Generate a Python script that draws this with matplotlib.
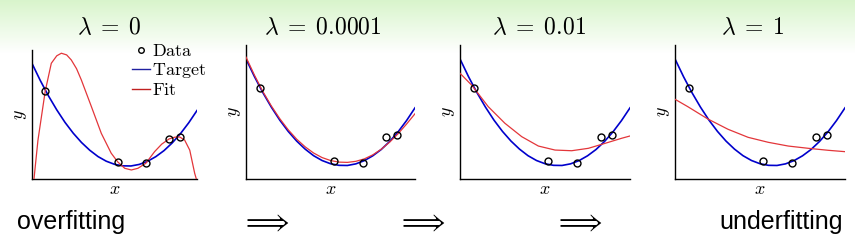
import numpy as np
import matplotlib
matplotlib.use("Agg")
import matplotlib.pyplot as plt
from matplotlib.lines import Line2D

plt.rcParams['mathtext.fontset'] = 'cm'

# noisy samples of the target
data_x = [0.08, 0.52, 0.69, 0.83, 0.895]
data_y = [0.68, 0.132, 0.122, 0.31, 0.326]

# target curve (same in every panel)
target_x = [0.0, 0.05, 0.1, 0.15, 0.2, 0.25, 0.3, 0.35, 0.4, 0.45, 0.5,
            0.55, 0.6, 0.65, 0.7, 0.75, 0.8, 0.85, 0.9, 0.95, 1.0]
target_y = [0.896, 0.764, 0.644, 0.536, 0.439, 0.355, 0.283, 0.223, 0.174, 0.138, 0.114,
            0.102, 0.101, 0.113, 0.137, 0.173, 0.220, 0.280, 0.352, 0.436, 0.531]

# fits for each lambda
fit0_x = [0.012, 0.036, 0.08, 0.117, 0.15, 0.178, 0.21, 0.238, 0.27, 0.299, 0.36,
          0.42, 0.48, 0.52, 0.562, 0.602, 0.642, 0.69, 0.743, 0.786, 0.83,
          0.865, 0.895, 0.925, 0.956, 0.986, 0.996]
fit0_y = [0.0, 0.30, 0.68, 0.897, 0.955, 0.975, 0.962, 0.923, 0.855, 0.768, 0.561,
          0.354, 0.2, 0.132, 0.083, 0.07, 0.083, 0.122, 0.212, 0.27, 0.31,
          0.324, 0.326, 0.302, 0.224, 0.044, 0.0]

fit1_x = target_x
fit1_y = [0.91, 0.775, 0.652, 0.545, 0.45, 0.367, 0.297, 0.24, 0.194, 0.16, 0.138,
          0.126, 0.124, 0.132, 0.15, 0.18, 0.222, 0.275, 0.338, 0.41, 0.487]

fit2_x = [0.0, 0.069, 0.166, 0.264, 0.363, 0.461, 0.559, 0.657, 0.755, 0.853, 0.951, 1.0]
fit2_y = [0.789, 0.70, 0.54, 0.416, 0.316, 0.246, 0.216, 0.211, 0.229, 0.266, 0.304, 0.321]

fit3_x = [0.0, 0.075, 0.193, 0.312, 0.43, 0.548, 0.666, 0.784, 0.903, 1.0]
fit3_y = [0.595, 0.54, 0.448, 0.371, 0.311, 0.274, 0.246, 0.229, 0.214, 0.204]

titles = [r'$\lambda\;=\;0$', r'$\lambda\;=\;0.0001$', r'$\lambda\;=\;0.01$', r'$\lambda\;=\;1$']
fits = [(fit0_x, fit0_y), (fit1_x, fit1_y), (fit2_x, fit2_y), (fit3_x, fit3_y)]

W, H = 855, 240
fig = plt.figure(figsize=(W / 100, H / 100), dpi=100)

# light green band at the top
bg = fig.add_axes([0, 0, 1, 1], zorder=-10)
t = np.clip(np.linspace(0, 1, H) / 0.22, 0, 1)[:, None]
top = np.array([0.85, 0.96, 0.80])
grad = top[None, None, :] * (1 - t[..., None]) + np.ones(3)[None, None, :] * t[..., None]
grad = np.repeat(grad, 4, axis=1)
bg.imshow(grad, aspect='auto', extent=[0, 1, 0, 1])
bg.axis('off')

# pixel boxes: left, right, top ; bottom is 179 for all
boxes = [(32, 197, 50), (246, 415, 45), (460, 630, 45), (675, 845, 45)]
title_cx = [109, 323, 539, 753]

for i, (l, r, tp) in enumerate(boxes):
    ax = fig.add_axes([l / W, (H - 179) / H, (r - l) / W, (179 - tp) / H])
    ax.set_facecolor('none')
    fx, fy = fits[i]
    ax.plot(target_x, target_y, color='#0000cc', lw=1.2, zorder=2)
    ax.plot(fx, fy, color='#e3363a', lw=0.9, zorder=3)
    ax.plot(data_x, data_y, 'o', mfc='none', mec='black', mew=1.0, ms=5, zorder=4)
    ax.set_xlim(0, 1)
    ax.set_ylim(0, 1)
    for s in ['top', 'right']:
        ax.spines[s].set_visible(False)
    ax.spines['left'].set_linewidth(1.0)
    ax.spines['bottom'].set_linewidth(1.0)
    ax.set_xticks([])
    ax.set_yticks([])
    ax.set_xlabel(r'$x$', fontsize=13, labelpad=1)
    ax.set_ylabel(r'$y$', fontsize=13, labelpad=2)
    fig.text(title_cx[i] / W, 1 - 27 / H, titles[i], fontsize=17, ha='center', va='center')

    if i == 0:
        handles = [Line2D([], [], ls='none', marker='o', mfc='none', mec='black', ms=4, mew=1.0),
                   Line2D([], [], color='#2020a0', lw=1.0),
                   Line2D([], [], color='#c02020', lw=1.0)]
        ax.legend(handles, [r'$\mathrm{Data}$', r'$\mathrm{Target}$', r'$\mathrm{Fit}$'],
                  loc='upper left', bbox_to_anchor=((132 - 32) / 165, 1.06),
                  frameon=False, fontsize=13, handlelength=1.0, handletextpad=0.1,
                  labelspacing=0.05, borderpad=0, borderaxespad=0)

# bottom row of text
fig.text(17 / W, 1 - 222 / H, 'overfitting', fontsize=18, family='Liberation Sans',
         ha='left', va='center')
fig.text(843 / W, 1 - 222 / H, 'underfitting', fontsize=18, family='Liberation Sans',
         ha='right', va='center')
for cx in [265.5, 422, 579]:
    fig.text(cx / W, 1 - 222 / H, r'$\Longrightarrow$', fontsize=20, ha='center', va='center')

fig.savefig('out.png', dpi=100)
